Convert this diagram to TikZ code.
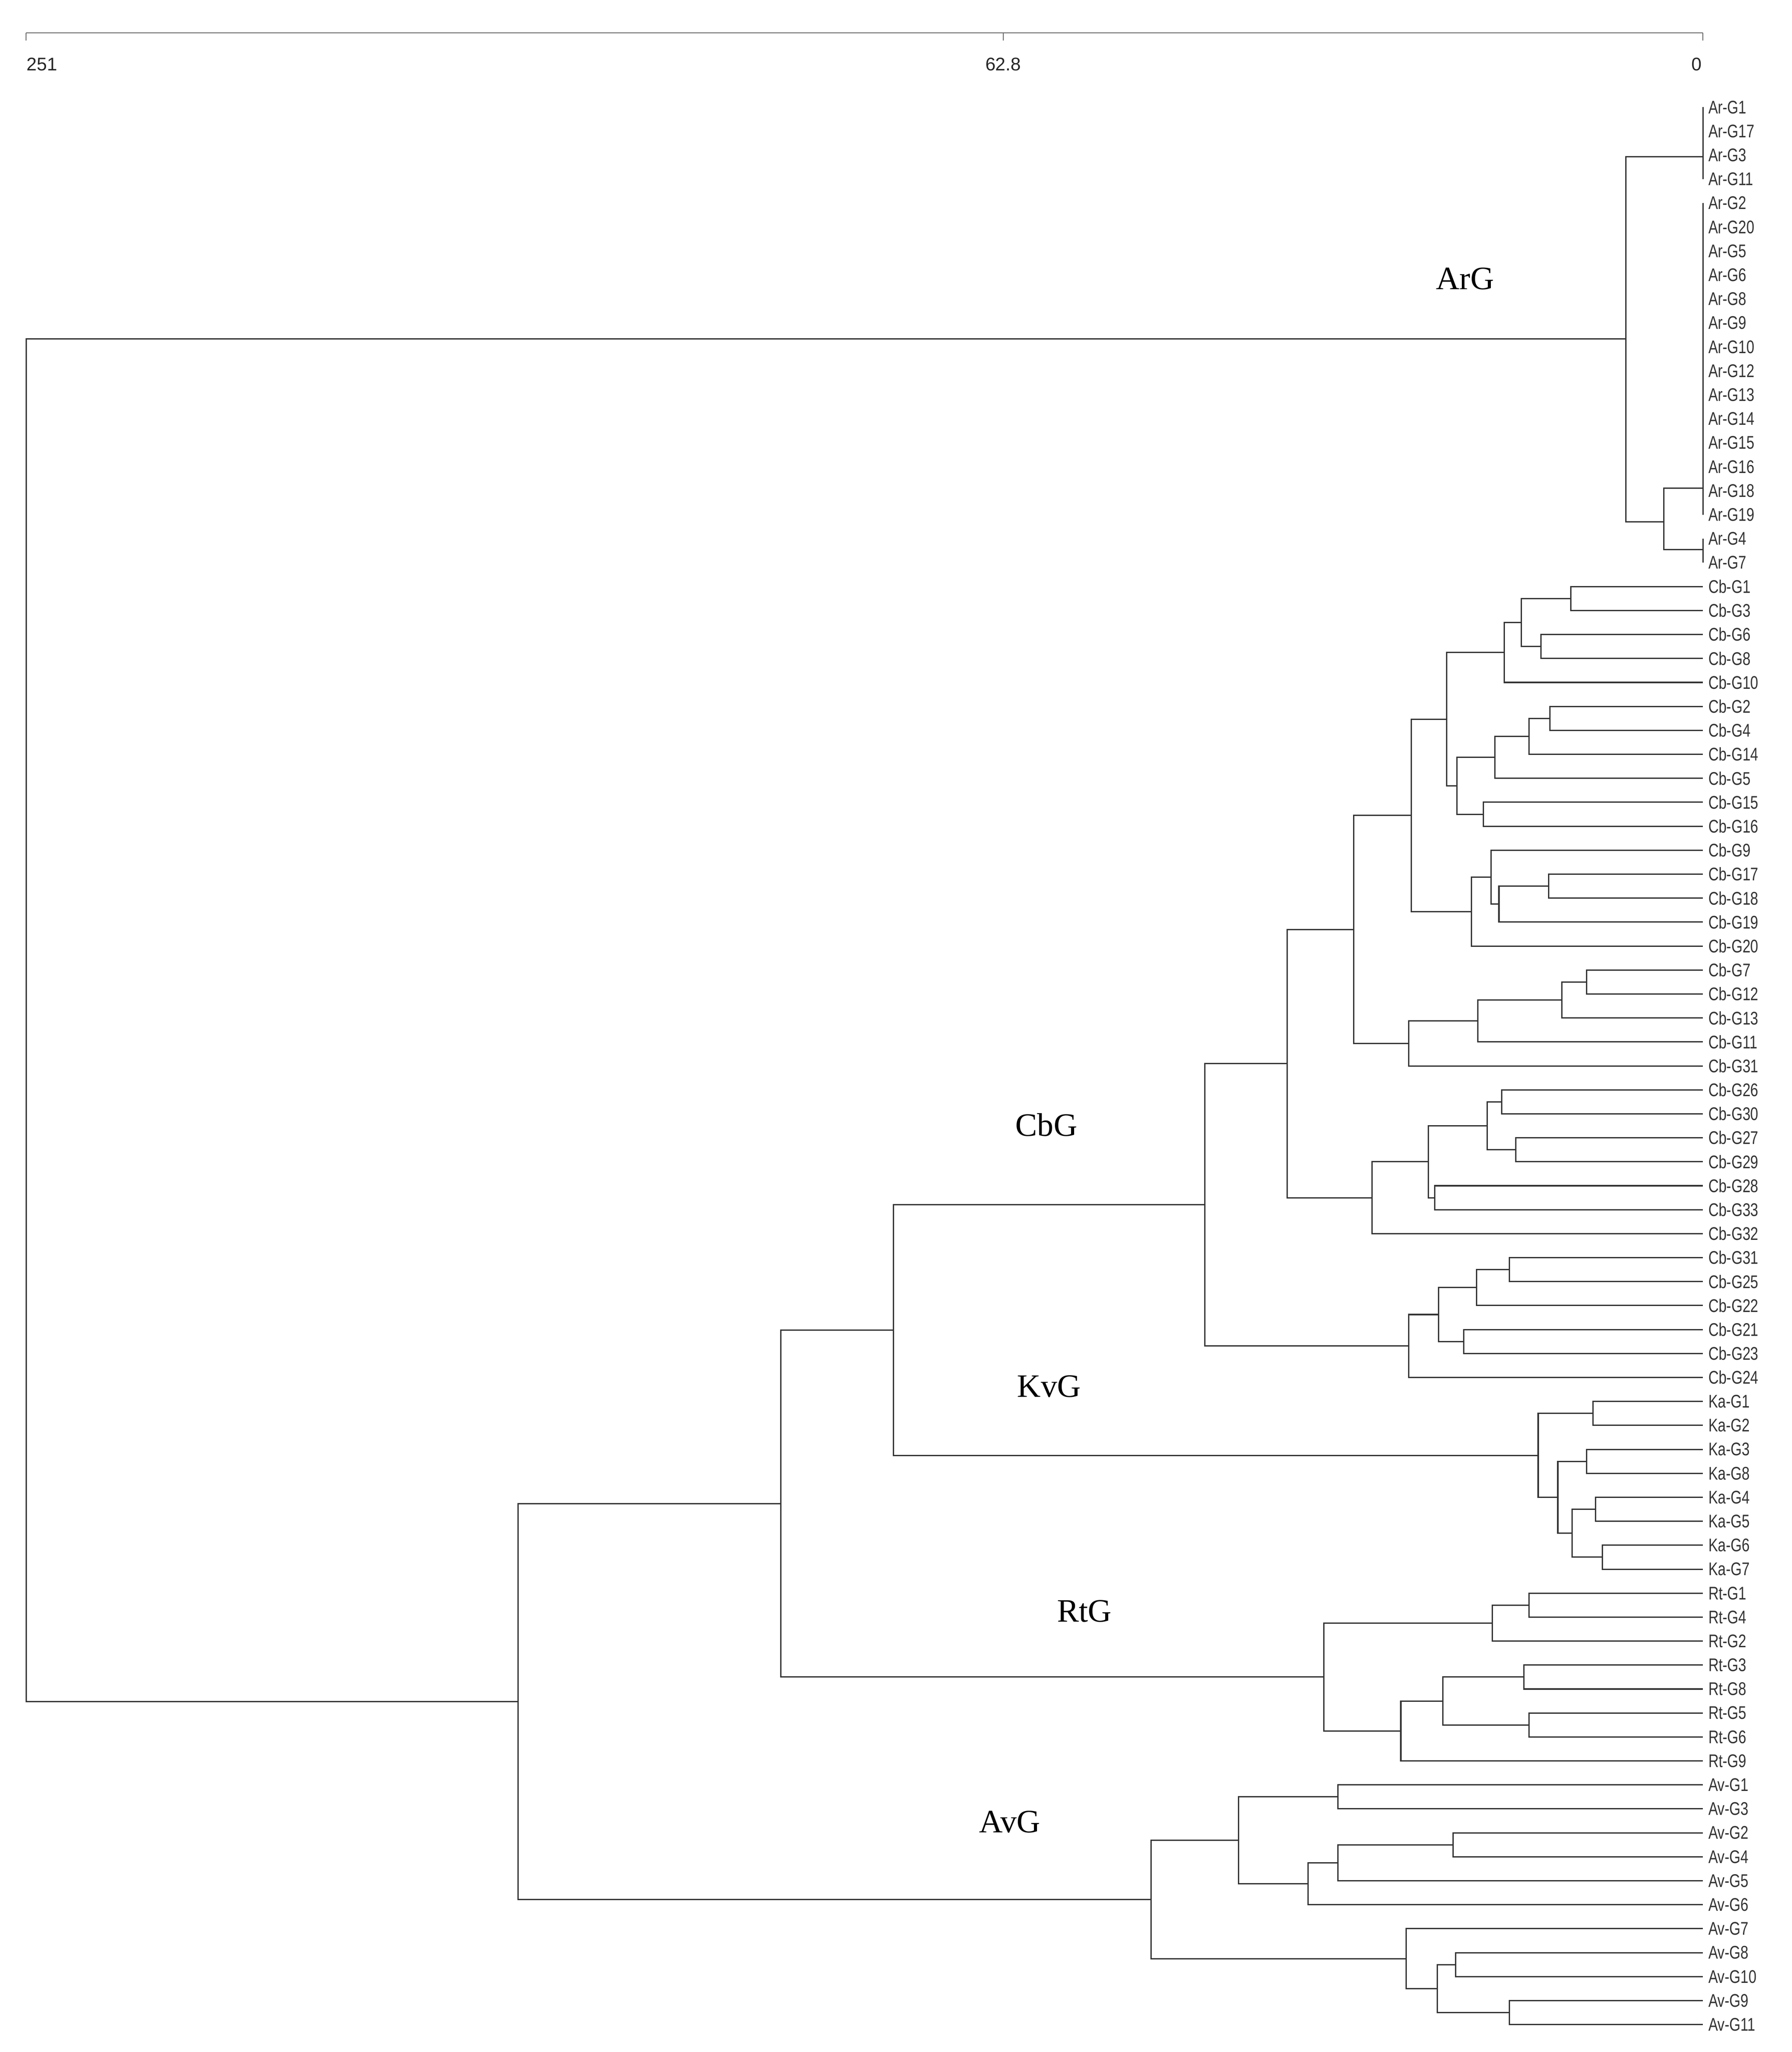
\documentclass[tikz,border=0pt]{standalone}
\usepackage{fontspec}
\setmainfont{Liberation Sans}
\usetikzlibrary{calc}
\newfontfamily\lmserif{Liberation Serif}
\newcommand{\dendjoin}[4]{%
  \path let \p1=(#3), \p2=(#4) in coordinate (#1) at (#2pt,{0.5*\y1+0.5*\y2});
  \draw[br] (#3) -- (#3 -| #1) -- (#4 -| #1) -- (#4);}
\begin{document}
\begin{tikzpicture}[x=1pt,y=-1pt,
  br/.style={draw=black!80,line width=1pt},
  leaf/.style={anchor=west,inner sep=0pt,font=\fontsize{14}{14}\selectfont,text=black!80,xscale=0.78},
  grp/.style={font=\lmserif\fontsize{25}{25}\selectfont},
  axl/.style={font=\fontsize{14}{14}\selectfont,text=black!85}]
\useasboundingbox (0,0) rectangle (1370,1569);
% axis
\coordinate (ax0) at (20,25); \coordinate (ax1) at (767,25); \coordinate (ax2) at (1302,25);
\draw[br,line width=0.7pt,draw=black!60] (ax0) -- (ax2);
\draw[br,line width=0.7pt,draw=black!60] (ax0) -- ++(0,6) (ax1) -- ++(0,6) (ax2) -- ++(0,6);
\node[axl] (t0) at (32,49) {251};
\node[axl] (t1) at (767,49) {62.8};
\node[axl] (t2) at (1297,49) {0};
% leaves
\foreach \lab [count=\i from 0] in {Ar-G1,Ar-G17,Ar-G3,Ar-G11,Ar-G2,Ar-G20,Ar-G5,Ar-G6,Ar-G8,Ar-G9,Ar-G10,Ar-G12,Ar-G13,Ar-G14,Ar-G15,Ar-G16,Ar-G18,Ar-G19,Ar-G4,Ar-G7,
Cb-G1,Cb-G3,Cb-G6,Cb-G8,Cb-G10,Cb-G2,Cb-G4,Cb-G14,Cb-G5,Cb-G15,Cb-G16,Cb-G9,Cb-G17,Cb-G18,Cb-G19,Cb-G20,Cb-G7,Cb-G12,Cb-G13,Cb-G11,Cb-G31,Cb-G26,Cb-G30,Cb-G27,Cb-G29,Cb-G28,Cb-G33,Cb-G32,Cb-G31,Cb-G25,Cb-G22,Cb-G21,Cb-G23,Cb-G24,
Ka-G1,Ka-G2,Ka-G3,Ka-G8,Ka-G4,Ka-G5,Ka-G6,Ka-G7,
Rt-G1,Rt-G4,Rt-G2,Rt-G3,Rt-G8,Rt-G5,Rt-G6,Rt-G9,
Av-G1,Av-G3,Av-G2,Av-G4,Av-G5,Av-G6,Av-G7,Av-G8,Av-G10,Av-G9,Av-G11}{
  \coordinate (L\i) at (1302,{82+18.325*\i});
  \node[leaf] (n\i) at (1306,{82+18.325*\i}) {\lab};
}
% Ar group
\coordinate (A1) at (1302,{82+18.325*2.07});
\coordinate (A2) at (1302,{82+18.325*15.9});
\coordinate (A3) at (1302,{82+18.325*18.45});
\coordinate (a1272) at (1272,{82+18.325*17.3});
\coordinate (ar) at (1243,{82+18.325*9.67});
\draw[br] (L0) -- (L3);
\draw[br] (L4) -- (L17);
\draw[br] (L18) -- (L19);
\draw[br] (A2) -- (A2 -| a1272) -- (A3 -| a1272) -- (A3);
\draw[br] (A1) -- (A1 -| ar) -- (a1272 -| ar) -- (a1272);
% Cb
\dendjoin{c1}{1201}{L20}{L21}
\dendjoin{c2}{1178}{L22}{L23}
\dendjoin{c3}{1163}{c1}{c2}
\dendjoin{c4}{1150}{c3}{L24}
\dendjoin{c5}{1185}{L25}{L26}
\dendjoin{c6}{1169}{c5}{L27}
\dendjoin{c7}{1143}{c6}{L28}
\dendjoin{c8}{1134}{L29}{L30}
\dendjoin{c9}{1114}{c7}{c8}
\dendjoin{c10}{1106}{c4}{c9}
\dendjoin{c11}{1184}{L32}{L33}
\dendjoin{c12}{1146}{c11}{L34}
\dendjoin{c13}{1140}{L31}{c12}
\dendjoin{c14}{1125}{c13}{L35}
\dendjoin{c15}{1079}{c10}{c14}
\dendjoin{c16}{1213}{L36}{L37}
\dendjoin{c17}{1194}{c16}{L38}
\dendjoin{c18}{1130}{c17}{L39}
\dendjoin{c19}{1077}{c18}{L40}
\dendjoin{c20}{1035}{c15}{c19}
\dendjoin{d1}{1148}{L41}{L42}
\dendjoin{d2}{1159}{L43}{L44}
\dendjoin{d3}{1137}{d1}{d2}
\dendjoin{d4}{1097}{L45}{L46}
\dendjoin{d5}{1092}{d3}{d4}
\dendjoin{d6}{1049}{d5}{L47}
\dendjoin{d7}{984}{c20}{d6}
\dendjoin{e1}{1154}{L48}{L49}
\dendjoin{e2}{1129}{e1}{L50}
\dendjoin{e3}{1119}{L51}{L52}
\dendjoin{e4}{1100}{e2}{e3}
\dendjoin{e5}{1077}{e4}{L53}
\dendjoin{cb}{921}{d7}{e5}
% Ka
\dendjoin{k1}{1218}{L54}{L55}
\dendjoin{k2}{1213}{L56}{L57}
\dendjoin{k3}{1220}{L58}{L59}
\dendjoin{k4}{1225}{L60}{L61}
\dendjoin{k5}{1202}{k3}{k4}
\dendjoin{k6}{1191}{k2}{k5}
\dendjoin{ka}{1176}{k1}{k6}
% Rt
\dendjoin{r1}{1169}{L62}{L63}
\dendjoin{r2}{1141}{r1}{L64}
\dendjoin{r3}{1165}{L65}{L66}
\dendjoin{r4}{1169}{L67}{L68}
\dendjoin{r5}{1103}{r3}{r4}
\dendjoin{r6}{1071}{r5}{L69}
\dendjoin{rt}{1012}{r2}{r6}
% Av
\dendjoin{v1}{1023}{L70}{L71}
\dendjoin{v2}{1111}{L72}{L73}
\dendjoin{v3}{1023}{v2}{L74}
\dendjoin{v4}{1000}{v3}{L75}
\dendjoin{v5}{947}{v1}{v4}
\dendjoin{v6}{1113}{L77}{L78}
\dendjoin{v7}{1154}{L79}{L80}
\dendjoin{v8}{1099}{v6}{v7}
\dendjoin{v9}{1075}{L76}{v8}
\dendjoin{av}{880}{v5}{v9}
% upper
\dendjoin{m1}{683}{cb}{ka}
\dendjoin{m2}{597}{m1}{rt}
\dendjoin{m3}{396}{m2}{av}
\dendjoin{root}{20}{ar}{m3}
% group labels
\node[grp] (gAr) at (1120,213) {ArG};
\node[grp] (gCb) at (800,860) {CbG};
\node[grp] (gKv) at (802,1060) {KvG};
\node[grp] (gRt) at (829,1232) {RtG};
\node[grp] (gAv) at (772,1393) {AvG};
\end{tikzpicture}
\end{document}
